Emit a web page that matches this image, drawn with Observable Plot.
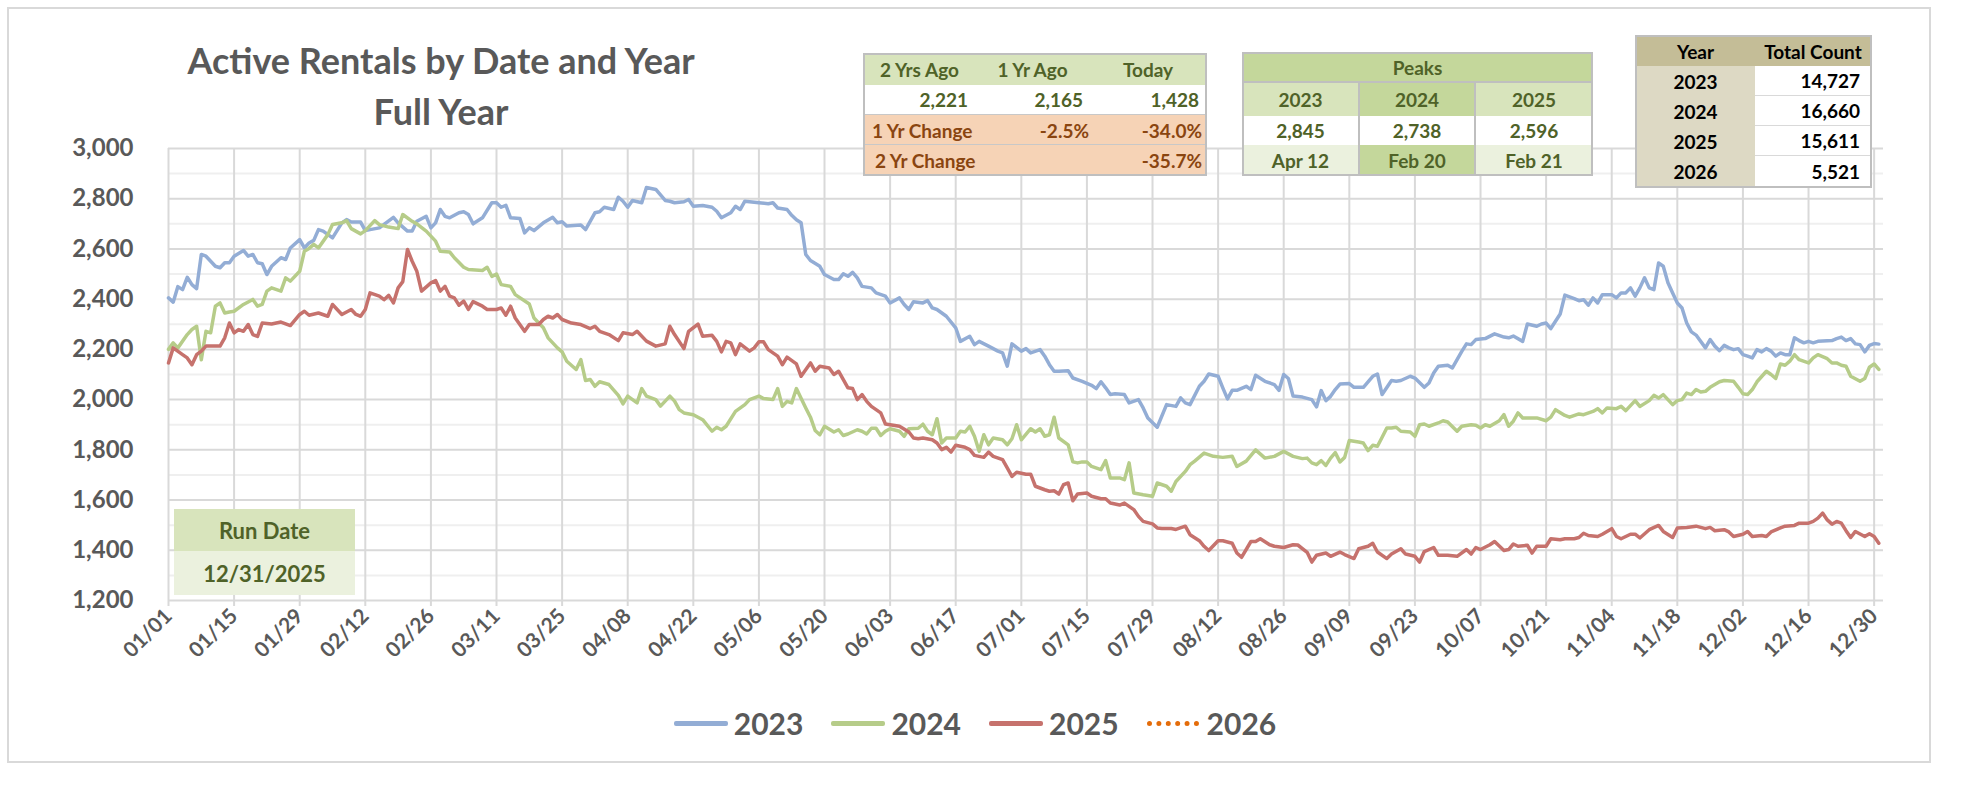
<!DOCTYPE html>
<html>
<head>
<meta charset="utf-8">
<script src="https://cdn.jsdelivr.net/npm/d3@7"></script>
<script src="https://cdn.jsdelivr.net/npm/@observablehq/plot@0.6"></script>
<style>
  body { margin: 0; background: #fff; font-family: Lato, "Noto Sans", sans-serif; }
  #wrap { position: relative; width: 1961px; height: 790px; overflow: hidden; background: #fff; }
  #frame { position: absolute; left: 7px; top: 7px; width: 1924px; height: 756px; border: 2px solid #d9d9d9; box-sizing: border-box; }
  #chart { position: absolute; left: 0; top: 0; }
  .title { position: absolute; left: 141px; width: 600px; top: 35px; text-align: center; font-weight: 700; font-size: 36px; line-height: 51px; color: #595959; }
  .cell { position: absolute; box-sizing: border-box; font-weight: 700; display: flex; align-items: center; white-space: nowrap; }
  .legend { position: absolute; top: 705px; left: 0; width: 1950px; display: flex; justify-content: center; align-items: center; font-weight: 700; font-size: 30px; color: #595959; }
  .legend .item { display: flex; align-items: center; margin: 0 14px; }
  .legend .sw { width: 54px; height: 0; border-top: 5px solid; margin-right: 6px; border-radius: 2px; }
  .legend .dots { width: 52px; height: 0; border-top: 5px dotted #e46c0a; margin-right: 8px; }
</style>
</head>
<body>
<div id="wrap">
  <div id="frame"></div>
  <div id="chart"></div>
  <div class="title">Active Rentals by Date and Year<br>Full Year</div>
  <div id="overlays"></div>
  <div class="legend" id="legend"></div>
</div>
<script>
// ---------- Data (day offset from 01/01) ----------
const days2023 = [0,1,2,3,4,5,6,7,8,10,11,12,13,14,16,17,18,19,20,21,22,24,25,26,28,29,30,31,32,33,35,37,38,39,41,42,43,45,48,49,51,52,53,55,56,57,58,59,60,62,63,64,65,67,69,70,71,72,73,75,76,77,78,80,82,83,84,85,88,89,91,92,93,95,96,97,98,99,101,102,104,106,107,108,110,111,112,114,116,117,118,120,121,122,123,126,128,129,130,132,133,134,135,136,137,139,140,142,143,144,145,146,147,148,150,151,153,154,156,157,158,159,161,162,163,164,166,168,169,171,172,173,175,177,178,179,180,182,183,184,186,187,188,189,190,192,193,195,197,198,199,200,201,202,204,205,207,208,209,211,213,215,216,217,218,220,221,222,224,225,226,227,228,230,231,232,234,236,237,238,239,240,242,244,245,246,247,248,249,250,252,253,255,257,258,259,261,262,263,265,266,268,269,270,271,273,274,276,277,278,279,281,283,285,286,287,289,290,292,293,294,295,296,297,298,300,301,302,303,304,305,306,308,309,310,311,312,313,314,315,316,317,318,319,320,321,322,323,324,325,326,328,329,330,331,332,333,334,335,336,337,338,339,340,341,342,343,344,345,346,347,348,349,350,351,352,355,356,357,358,359,360,361,362,363,364,365];
const rentals2023 = [2405,2388,2450,2438,2487,2458,2442,2578,2571,2531,2525,2545,2545,2571,2594,2571,2578,2545,2541,2498,2531,2565,2558,2604,2637,2604,2624,2634,2677,2671,2644,2704,2717,2707,2707,2673,2677,2684,2726,2704,2671,2671,2710,2730,2684,2704,2757,2730,2724,2744,2748,2737,2700,2724,2784,2784,2766,2774,2724,2721,2664,2684,2673,2704,2726,2704,2708,2691,2695,2677,2744,2748,2766,2757,2806,2790,2766,2793,2784,2845,2837,2793,2790,2784,2788,2797,2770,2773,2766,2750,2724,2744,2770,2757,2790,2784,2780,2784,2763,2757,2734,2716,2704,2578,2554,2531,2498,2478,2478,2501,2491,2507,2485,2451,2445,2425,2412,2385,2405,2379,2359,2390,2385,2394,2365,2359,2332,2286,2232,2252,2219,2232,2213,2193,2186,2133,2222,2193,2203,2186,2199,2173,2139,2113,2113,2115,2086,2073,2057,2044,2071,2047,2020,2023,2020,1987,2000,1967,1927,1890,1980,1973,2007,1987,1980,2053,2073,2102,2093,2047,2003,2037,2037,2053,2040,2097,2073,2060,2037,2100,2084,2014,2010,2000,1971,2036,1996,2013,2040,2062,2064,2049,2049,2093,2102,2020,2076,2073,2076,2093,2086,2049,2066,2106,2133,2137,2126,2192,2222,2219,2239,2243,2262,2249,2246,2253,2232,2301,2292,2301,2305,2283,2312,2341,2416,2402,2394,2398,2376,2405,2385,2418,2418,2405,2425,2425,2445,2412,2445,2485,2445,2438,2544,2531,2465,2425,2385,2365,2305,2270,2257,2206,2239,2213,2195,2216,2206,2199,2203,2179,2173,2166,2199,2190,2203,2193,2173,2186,2179,2179,2246,2235,2226,2232,2226,2232,2235,2243,2249,2235,2243,2222,2219,2190,2216,2223,2221];

const days2024 = [0,1,2,4,5,6,7,8,9,10,11,12,13,14,16,18,19,20,21,22,24,25,26,28,29,30,31,32,34,35,37,38,39,41,42,44,45,47,49,50,52,53,55,57,58,60,61,63,64,67,68,69,70,71,73,74,77,78,80,81,83,84,85,87,88,89,90,91,92,94,96,97,98,100,101,102,104,105,107,108,109,110,112,114,116,117,118,119,121,123,124,126,127,129,130,131,132,133,134,136,137,138,139,140,142,143,144,145,147,148,149,150,151,152,153,154,156,157,158,160,161,162,163,164,165,166,168,169,170,171,172,173,174,175,176,178,179,180,181,182,184,185,186,187,188,189,190,192,193,194,195,196,197,199,200,201,203,204,205,206,208,210,211,213,214,215,217,218,219,221,223,225,227,228,230,232,234,236,238,240,242,243,244,245,246,247,248,249,250,251,252,254,255,256,257,258,259,260,261,262,263,265,266,267,268,269,271,272,273,275,276,278,279,280,281,282,284,285,286,287,288,289,290,292,294,295,296,298,299,301,302,304,305,306,307,309,310,311,313,314,316,317,318,319,321,322,323,324,325,326,327,328,329,331,332,334,335,336,337,338,339,341,342,343,344,345,346,347,348,350,351,352,354,355,356,357,358,359,361,362,363,364,365];
const rentals2024 = [2200,2226,2206,2259,2279,2292,2159,2272,2266,2372,2385,2345,2349,2352,2379,2399,2372,2379,2432,2445,2432,2485,2472,2511,2591,2602,2618,2604,2657,2697,2704,2713,2681,2660,2673,2713,2697,2687,2681,2737,2710,2700,2671,2631,2591,2588,2565,2527,2518,2514,2527,2491,2500,2458,2451,2418,2381,2325,2286,2246,2206,2190,2153,2120,2159,2076,2080,2053,2071,2060,2017,1983,2014,1987,2044,2014,2000,1974,2014,1994,1960,1947,1940,1920,1874,1890,1880,1894,1953,1980,2000,2014,2004,2000,2044,1973,1993,1987,2044,1967,1930,1877,1860,1894,1871,1880,1857,1863,1880,1874,1863,1886,1886,1857,1874,1884,1874,1854,1884,1886,1902,1874,1860,1924,1827,1847,1847,1874,1871,1894,1854,1794,1860,1820,1847,1840,1820,1844,1900,1840,1884,1871,1884,1854,1860,1930,1847,1820,1752,1748,1752,1752,1734,1721,1757,1688,1688,1681,1748,1628,1621,1615,1668,1655,1635,1674,1714,1741,1755,1787,1774,1770,1774,1734,1755,1800,1767,1774,1794,1774,1765,1767,1748,1741,1757,1738,1767,1789,1752,1770,1837,1831,1827,1797,1818,1814,1850,1887,1887,1890,1874,1871,1854,1900,1903,1894,1907,1916,1911,1874,1894,1900,1898,1887,1900,1894,1916,1940,1894,1914,1947,1927,1927,1927,1916,1930,1960,1937,1930,1943,1940,1953,1964,1947,1967,1964,1973,1956,1996,1973,1996,2017,2006,2020,1980,1996,2000,2026,2020,2040,2030,2033,2049,2071,2076,2073,2049,2023,2020,2040,2071,2113,2100,2084,2142,2137,2153,2179,2159,2146,2166,2179,2163,2146,2146,2137,2133,2093,2073,2084,2129,2142,2120,2165];

const days2025 = [0,1,3,4,5,6,7,8,11,12,13,14,15,16,17,18,19,20,22,24,26,28,29,30,32,34,35,37,39,40,41,42,43,45,46,47,48,49,50,51,52,53,54,56,57,58,59,60,61,62,63,64,65,67,68,70,71,72,73,74,76,77,79,80,81,82,83,84,86,88,90,91,92,94,96,97,99,100,102,104,106,107,108,110,111,113,114,116,117,118,119,120,121,122,124,125,126,127,128,130,131,132,134,135,137,138,139,141,142,143,145,146,147,148,149,150,152,153,155,156,158,159,160,161,163,164,165,166,167,168,170,171,172,174,175,176,178,179,180,181,183,184,185,187,188,189,190,191,192,193,194,196,197,199,200,201,203,204,206,207,208,210,211,212,214,215,217,218,220,221,222,224,225,227,228,229,231,232,233,235,236,238,240,241,243,244,245,247,248,250,251,253,254,256,257,258,260,261,263,264,266,267,268,270,271,273,275,277,278,279,280,282,283,285,286,287,288,290,291,292,294,295,297,298,300,301,302,303,305,306,308,309,310,312,313,314,316,318,319,321,322,324,326,328,329,330,332,333,334,336,337,338,340,341,342,344,345,347,348,350,351,352,353,354,355,356,357,358,359,360,362,363,364,365];
const rentals2025 = [2146,2206,2179,2166,2139,2179,2193,2213,2213,2246,2305,2266,2279,2272,2299,2259,2252,2305,2301,2309,2295,2339,2352,2336,2345,2332,2379,2339,2359,2339,2332,2359,2425,2412,2398,2415,2385,2445,2470,2598,2551,2511,2432,2465,2474,2432,2451,2412,2405,2376,2392,2359,2390,2372,2359,2359,2365,2336,2372,2325,2272,2299,2299,2319,2332,2325,2339,2319,2305,2299,2283,2292,2272,2259,2235,2266,2259,2272,2233,2213,2222,2292,2259,2203,2272,2301,2252,2256,2232,2190,2232,2226,2179,2222,2193,2206,2230,2230,2199,2173,2139,2169,2142,2093,2146,2113,2133,2126,2100,2113,2047,2044,2000,2020,1993,1973,1947,1903,1897,1894,1871,1847,1844,1847,1840,1827,1801,1810,1791,1818,1810,1801,1778,1770,1791,1774,1761,1728,1694,1711,1703,1703,1655,1641,1635,1637,1624,1661,1668,1597,1624,1628,1615,1605,1605,1588,1580,1588,1562,1535,1515,1505,1489,1487,1487,1483,1496,1462,1438,1416,1399,1438,1438,1428,1389,1372,1435,1435,1446,1422,1416,1411,1422,1421,1392,1353,1380,1389,1376,1393,1383,1367,1406,1416,1428,1393,1367,1385,1406,1385,1376,1353,1395,1411,1380,1380,1376,1403,1385,1411,1403,1422,1435,1399,1403,1425,1416,1420,1389,1416,1416,1446,1442,1446,1446,1451,1468,1459,1455,1464,1486,1455,1446,1464,1464,1449,1482,1499,1475,1451,1489,1491,1496,1486,1491,1478,1482,1473,1455,1464,1475,1455,1459,1455,1473,1489,1496,1499,1508,1508,1515,1528,1548,1521,1504,1515,1508,1478,1451,1475,1455,1466,1455,1428];

const seriesYears = ["2023", "2024", "2025", "2026"];
const seriesColors = ["#93add5", "#b6cc89", "#c6726d", "#e46c0a"];

const yTicks = [1200, 1400, 1600, 1800, 2000, 2200, 2400, 2600, 2800, 3000];
const yMinorTicks = [1300, 1500, 1700, 1900, 2100, 2300, 2500, 2700, 2900];
const xTickDays = [0,14,28,42,56,70,84,98,112,126,140,154,168,182,196,210,224,238,252,266,280,294,308,322,336,350,364];

const compareHeaders = ["2 Yrs Ago", "1 Yr Ago", "Today"];
const compareValues = [2221, 2165, 1428];
const oneYrChange = ["-2.5%", "-34.0%"];
const twoYrChange = "-35.7%";
const peakYears = ["2023", "2024", "2025"];
const peakValues = [2845, 2738, 2596];
const peakDates = ["Apr 12", "Feb 20", "Feb 21"];
const totalYears = ["2023", "2024", "2025", "2026"];
const totalCounts = [14727, 16660, 15611, 5521];
const runDate = "12/31/2025";

// ---------- Build rows ----------
const toRows = (days, vals, year) => days.map((d, i) => ({day: d, value: vals[i], year}));
const rows = [
  ...toRows(days2023, rentals2023, "2023"),
  ...toRows(days2024, rentals2024, "2024"),
  ...toRows(days2025, rentals2025, "2025")
];
const fmtDay = d => d3.utcFormat("%m/%d")(new Date(Date.UTC(2024, 0, 1 + d)));
const fmtNum = d3.format(",");

const chart = Plot.plot({
  width: 1961,
  height: 680,
  marginLeft: 168,
  marginRight: 78,
  marginTop: 148,
  marginBottom: 80,
  style: {fontFamily: "Lato, sans-serif", fontWeight: "bold", fontSize: "24px", color: "#595959", background: "transparent", overflow: "visible"},
  x: {domain: [0, 366]},
  y: {domain: [1200, 3000]},
  color: {domain: seriesYears, range: seriesColors},
  marks: [
    Plot.ruleY(yMinorTicks, {stroke: "#efefef", strokeWidth: 2}),
    Plot.ruleY(yTicks, {stroke: "#d9d9d9", strokeWidth: 2}),
    Plot.ruleX(xTickDays, {y1: 1176, y2: 3000, stroke: "#d9d9d9", strokeWidth: 2}),
    Plot.axisY({ticks: yTicks, tickFormat: fmtNum, tickSize: 0, tickPadding: 35, label: null}),
    Plot.axisX({ticks: xTickDays, tickFormat: fmtDay, tickSize: 0, tickPadding: 12, tickRotate: -45, fontSize: 21, label: null}),
    Plot.line(rows, {x: "day", y: "value", z: "year", stroke: "year", strokeWidth: 3.5, strokeLinejoin: "round", strokeLinecap: "round"})
  ]
});
document.getElementById("chart").appendChild(chart);

// ---------- Overlay tables ----------
const ov = document.getElementById("overlays");
function cell(x, y, w, h, text, opt = {}) {
  const d = document.createElement("div");
  d.className = "cell";
  d.style.left = x + "px"; d.style.top = y + "px";
  d.style.width = w + "px"; d.style.height = h + "px";
  d.style.background = opt.bg || "transparent";
  d.style.color = opt.color || "#4f6228";
  d.style.fontSize = (opt.size || 19) + "px";
  d.style.justifyContent = opt.align === "left" ? "flex-start" : opt.align === "right" ? "flex-end" : "center";
  if (opt.pad) d.style.padding = "0 " + opt.pad + "px";
  if (opt.bb) d.style.borderBottom = opt.bb;
  if (opt.br) d.style.borderRight = opt.br;
  d.textContent = text;
  ov.appendChild(d);
  return d;
}
function frame(x, y, w, h, color) {
  const d = document.createElement("div");
  d.style.cssText = `position:absolute;left:${x}px;top:${y}px;width:${w}px;height:${h}px;border:2px solid ${color};box-sizing:border-box;pointer-events:none;`;
  ov.appendChild(d);
}

// Table 1: comparison
{
  const X = 864, Y = 54, cols = [0, 111, 226, 342];
  const green = "#d8e4bc", peach = "#f6d3b6", brown = "#8a4510";
  cell(X, Y, 342, 121, "", {bg: "#fff"});
  compareHeaders.forEach((t, i) => cell(X + cols[i], Y, cols[i + 1] - cols[i], 31, t, {bg: green}));
  compareValues.forEach((v, i) => cell(X + cols[i], Y + 31, cols[i + 1] - cols[i], 30, fmtNum(v), {align: "right", pad: 7, bb: "1px solid #c8c8c8"}));
  cell(X, Y + 61, 342, 30, "", {bg: peach, bb: "1px solid #c8c8c8"});
  cell(X, Y + 91, 342, 30, "", {bg: peach});
  cell(X, Y + 61, 120, 30, "1 Yr Change", {align: "left", pad: 8, color: brown});
  cell(X + cols[1], Y + 61, cols[2] - cols[1], 30, oneYrChange[0], {align: "right", pad: 1, color: brown});
  cell(X + cols[2], Y + 61, cols[3] - cols[2], 30, oneYrChange[1], {align: "right", pad: 4, color: brown});
  cell(X, Y + 91, 120, 30, "2 Yr Change", {align: "left", pad: 11, color: brown});
  cell(X + cols[2], Y + 91, cols[3] - cols[2], 30, twoYrChange, {align: "right", pad: 4, color: brown});
  frame(X - 1, Y - 1, 344, 123, "#bfbfbf");
}
// Table 2: peaks
{
  const X = 1243, Y = 53, cols = [0, 117, 233, 349];
  const mid = "#c4d79b", light = "#d8e4bc", pale = "#ebf1de";
  cell(X, Y, 349, 30, "Peaks", {bg: mid, bb: "2px solid #bfbfbf"});
  peakYears.forEach((t, i) => cell(X + cols[i], Y + 30, cols[i + 1] - cols[i], 33, t, {bg: i === 1 ? mid : light, br: i < 2 ? "2px solid #bfbfbf" : null}));
  peakValues.forEach((v, i) => cell(X + cols[i], Y + 63, cols[i + 1] - cols[i], 29, fmtNum(v), {bg: "#fff", br: i < 2 ? "2px solid #bfbfbf" : null}));
  peakDates.forEach((t, i) => cell(X + cols[i], Y + 92, cols[i + 1] - cols[i], 30, t, {bg: i === 1 ? mid : pale, br: i < 2 ? "2px solid #bfbfbf" : null}));
  frame(X - 1, Y - 1, 351, 124, "#bfbfbf");
}
// Table 3: totals
{
  const X = 1636, Y = 36, c1 = 119, c2 = 116;
  const head = "#c4bd97", side = "#ddd9c4";
  cell(X, Y, c1, 30, "Year", {bg: head, color: "#000"});
  cell(X + c1, Y, c2, 30, "Total Count", {bg: head, color: "#000"});
  totalYears.forEach((t, i) => {
    cell(X, Y + 30 + i * 30, c1, 30, t, {bg: side, color: "#000"});
    cell(X + c1, Y + 30 + i * 30, c2, 30, fmtNum(totalCounts[i]), {bg: "#fff", color: "#000", align: "right", pad: 11, bb: i < 3 ? "1px solid #d9d9d9" : null});
  });
  frame(X - 1, Y - 1, 237, 153, "#bfbfbf");
}
// Run date box
cell(174, 509, 181, 42, "Run Date", {bg: "#d8e4bc", size: 22});
cell(174, 551, 181, 44, runDate, {bg: "#ebf1de", size: 22});

// ---------- Legend ----------
const lg = document.getElementById("legend");
seriesYears.forEach((y, i) => {
  const it = document.createElement("div");
  it.className = "item";
  const sw = document.createElement("div");
  if (i === 3) sw.className = "dots";
  else { sw.className = "sw"; sw.style.borderTopColor = seriesColors[i]; }
  const t = document.createElement("span");
  t.textContent = y;
  it.appendChild(sw); it.appendChild(t);
  lg.appendChild(it);
});
</script>
</body>
</html>
